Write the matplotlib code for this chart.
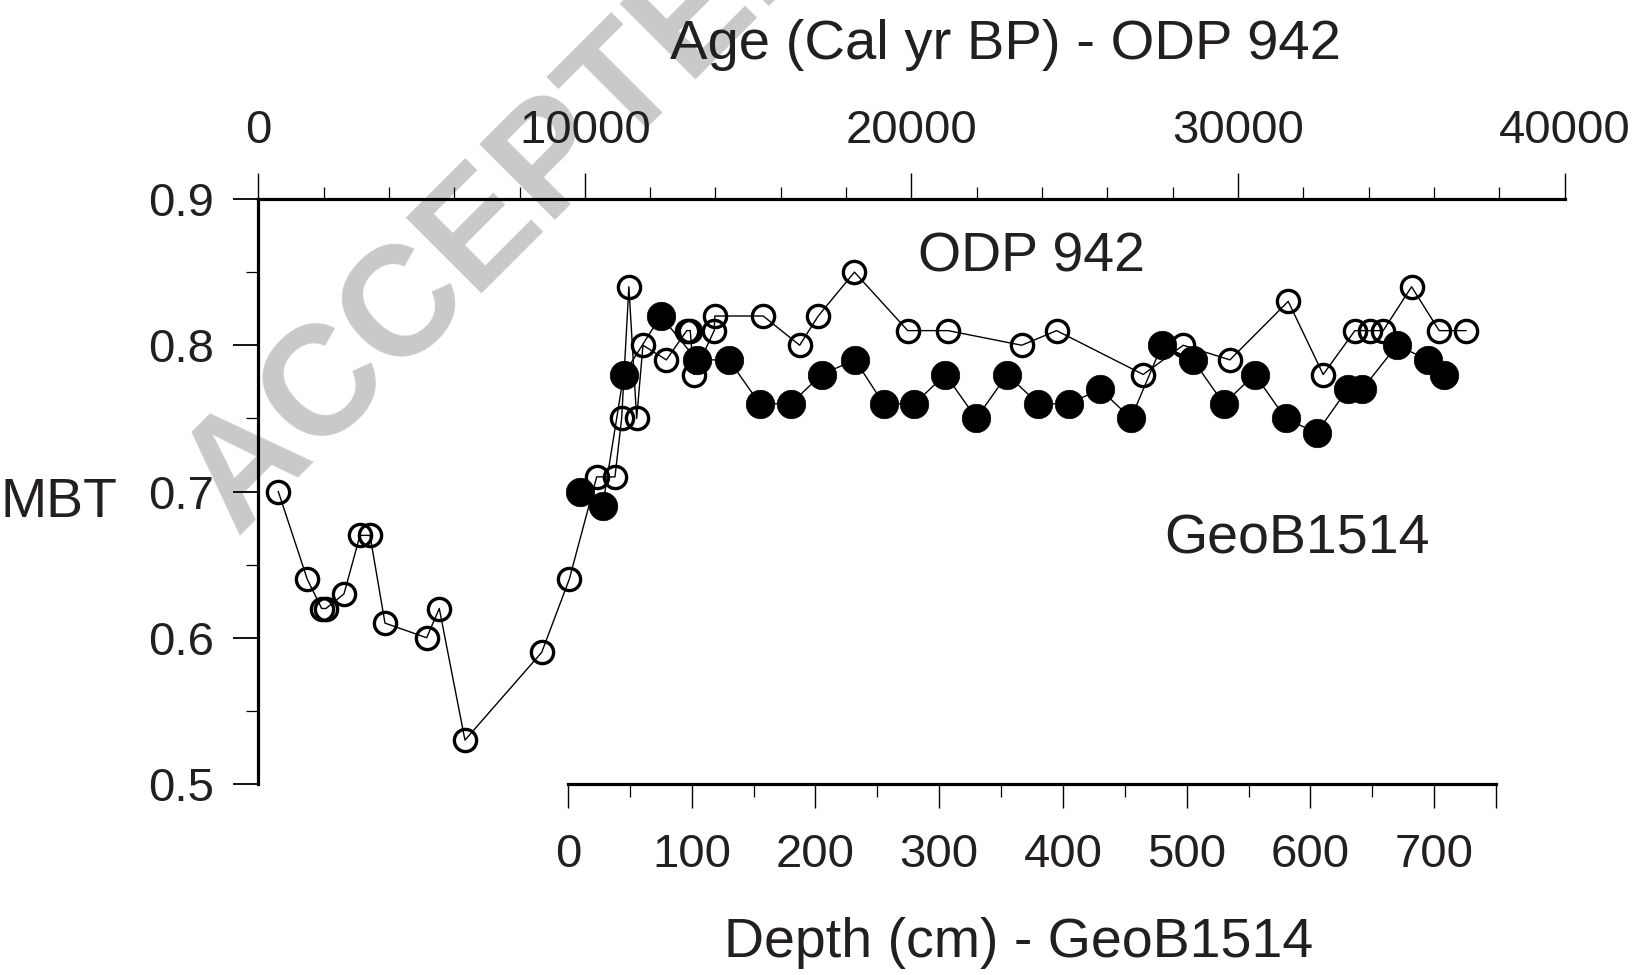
import matplotlib
matplotlib.use('Agg')
import matplotlib.pyplot as plt
from matplotlib.ticker import FixedLocator, MultipleLocator
import numpy as np

plt.rcParams['font.family'] = ['Liberation Sans', 'DejaVu Sans']

# ODP 942: MBT vs calibrated age
odp_age = [612, 1500, 1941, 2073, 2624, 3114, 3420, 3880, 5156, 5542, 6329,
           8678, 9523, 10362, 10922, 11127, 11348, 11587, 11780, 12496, 13121,
           13228, 13335, 13960, 13981, 15463, 16578, 17147, 18256, 19888, 21122,
           23379, 24447, 27099, 28324, 29754, 31539, 32610, 33581, 34040, 34448,
           35317, 36163, 36980]
odp_mbt = [0.70, 0.64, 0.62, 0.62, 0.63, 0.67, 0.67, 0.61, 0.60, 0.62, 0.53,
           0.59, 0.64, 0.71, 0.71, 0.75, 0.84, 0.75, 0.80, 0.79, 0.81,
           0.81, 0.78, 0.81, 0.82, 0.82, 0.80, 0.82, 0.85, 0.81, 0.81,
           0.80, 0.81, 0.78, 0.80, 0.79, 0.83, 0.78, 0.81, 0.81, 0.81,
           0.84, 0.81, 0.81]

# GeoB1514: MBT vs depth
geo_depth = [10, 28, 45, 75, 104, 130, 155, 180, 205, 232, 255, 280, 305, 330,
             355, 380, 405, 430, 455, 480, 505, 530, 555, 580, 605, 630, 642,
             670, 695, 708]
geo_mbt = [0.70, 0.69, 0.78, 0.82, 0.79, 0.79, 0.76, 0.76, 0.78, 0.79, 0.76,
           0.76, 0.78, 0.75, 0.78, 0.76, 0.76, 0.77, 0.75, 0.80, 0.79, 0.76,
           0.78, 0.75, 0.74, 0.77, 0.77, 0.80, 0.79, 0.78]

age_ticks = [0, 10000, 20000, 30000, 40000]
depth_ticks = [0, 100, 200, 300, 400, 500, 600, 700, 750]
depth_labels = ['0', '100', '200', '300', '400', '500', '600', '700', '']
mbt_ticks = [0.5, 0.6, 0.7, 0.8, 0.9]

W, H = 1632, 975
TXT = '#231f20'

fig = plt.figure(figsize=(W / 100, H / 100), dpi=100)


def fx(px):
    return px / W


def fy(py):
    return 1 - py / H


y_top, y_bot = 199, 784
ax = fig.add_axes([fx(258.3), fy(y_bot), fx(1564.5 - 258.3), (y_bot - y_top) / H])
ax2 = fig.add_axes([fx(568), fy(y_bot), fx(1496 - 568), (y_bot - y_top) / H])

for a in (ax, ax2):
    a.set_facecolor('none')
    a.set_ylim(0.5, 0.9)

# main axes: age on top, MBT on the left
ax.set_xlim(0, 40000)
ax.spines['bottom'].set_visible(False)
ax.spines['right'].set_visible(False)
for s in ('left', 'top'):
    ax.spines[s].set_linewidth(2.3)
ax.xaxis.tick_top()
ax.xaxis.set_major_locator(FixedLocator(age_ticks))
ax.xaxis.set_minor_locator(MultipleLocator(2000))
ax.yaxis.set_major_locator(FixedLocator(mbt_ticks))
ax.yaxis.set_minor_locator(MultipleLocator(0.05))
ax.set_yticklabels([f'{v:.1f}' for v in mbt_ticks])
ax.tick_params(axis='x', which='major', length=19, width=1.0, pad=14, labelsize=34,
               colors='black', labelcolor=TXT)
ax.tick_params(axis='x', which='minor', length=9, width=0.9)
ax.tick_params(axis='y', which='major', length=18, width=1.3, pad=14, labelsize=34,
               labelcolor=TXT)
ax.tick_params(axis='y', which='minor', length=8.5, width=0.9)

# depth axis at the bottom, partial width
ax2.set_xlim(0, 750)
for s in ('left', 'right', 'top'):
    ax2.spines[s].set_visible(False)
ax2.spines['bottom'].set_linewidth(2.3)
ax2.set_yticks([])
ax2.xaxis.set_major_locator(FixedLocator(depth_ticks))
ax2.set_xticklabels(depth_labels)
ax2.xaxis.set_minor_locator(FixedLocator([50, 150, 250, 350, 450, 550, 650]))
ax2.tick_params(axis='x', which='major', length=17, width=1.0, pad=18, labelsize=34,
                labelcolor=TXT)
ax2.tick_params(axis='x', which='minor', length=9, width=0.9)

ax.plot(odp_age, odp_mbt, color='black', lw=1.0, marker='o', ms=16, mew=2.4,
        mfc='none', mec='black', clip_on=False, zorder=3)
ax2.plot(geo_depth, geo_mbt, color='black', lw=1.0, marker='o', ms=20.5, mew=0.5,
         mfc='black', mec='black', clip_on=False, zorder=3)

fig.text(fx(1006), fy(59), 'Age (Cal yr BP) - ODP 942', fontsize=40.5, color=TXT,
         ha='center', va='baseline')
fig.text(fx(1031), fy(272), 'ODP 942', fontsize=40, color=TXT,
         ha='center', va='baseline')
fig.text(fx(1297), fy(553), 'GeoB1514', fontsize=40, color=TXT,
         ha='center', va='baseline')
fig.text(fx(1019), fy(957), 'Depth (cm) - GeoB1514', fontsize=40, color=TXT,
         ha='center', va='baseline')
fig.text(fx(59), fy(517), 'MBT', fontsize=40, color=TXT,
         ha='center', va='baseline')

# watermark
fig.text(fx(236), fy(536), 'ACCEPTED', fontsize=112, fontweight='bold',
         color='#c8c9cb', ha='left', va='baseline', rotation=45,
         rotation_mode='anchor', zorder=-10)

fig.savefig('out.png', dpi=100)
